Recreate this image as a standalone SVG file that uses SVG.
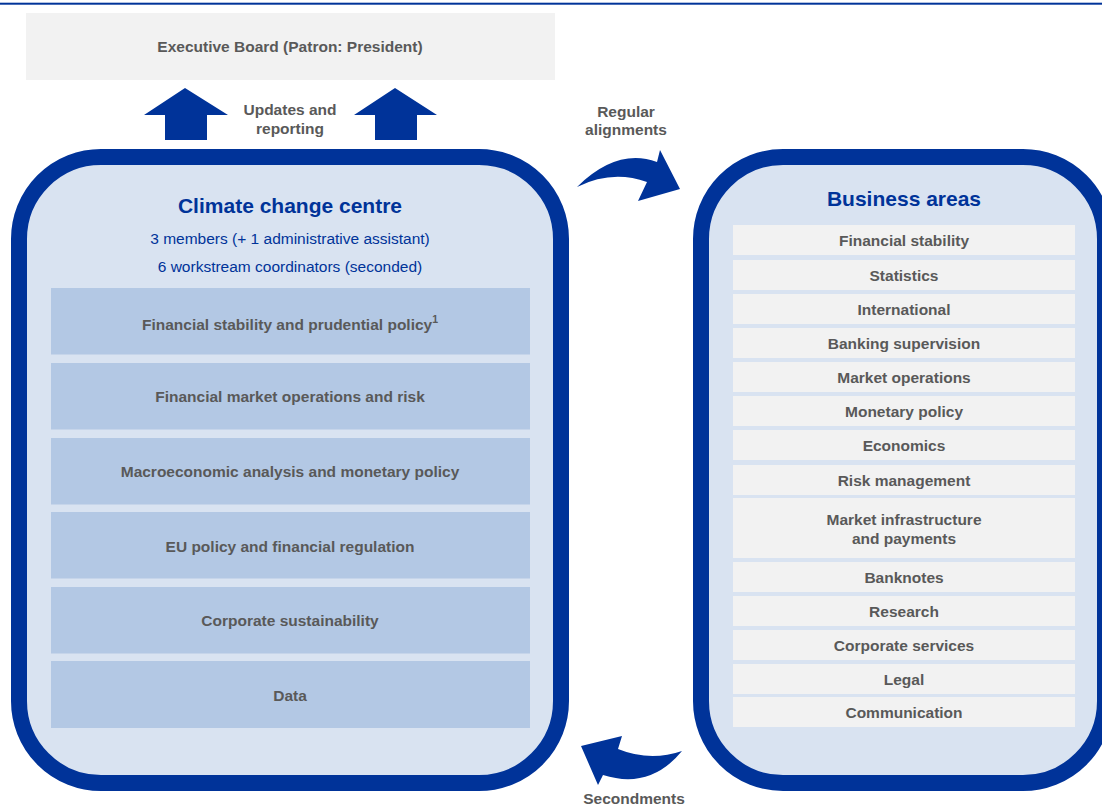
<svg xmlns="http://www.w3.org/2000/svg" width="1102" height="806" viewBox="0 0 1102 806">
<style>
.lbl{font-family:"Liberation Sans",Arial,sans-serif;font-weight:bold;font-size:15.5px;fill:#595959;text-anchor:middle}
.ttl{font-family:"Liberation Sans",Arial,sans-serif;font-weight:bold;font-size:21px;fill:#003399;text-anchor:middle}
.sub{font-family:"Liberation Sans",Arial,sans-serif;font-size:15.5px;fill:#003399;text-anchor:middle}
.frame{fill:#d9e3f1;stroke:#003399;stroke-width:16}
.ws{fill:#b3c8e4}
.ba{fill:#f2f2f2}
.arr{fill:#003399}
</style>
<rect x="0" y="2.7" width="1102" height="2" fill="#003399"/>
<g id="executive-board">
<rect x="26" y="13" width="529" height="67" fill="#f2f2f2"/>
<text class="lbl" x="290" y="51.5">Executive Board (Patron: President)</text>
</g>
<g id="connectors">
<polygon class="arr" points="185,88 228,115 207,115 207,140 165,140 165,115 144,115"/>
<polygon class="arr" points="395,88 437,115 417,115 417,140 375,140 375,115 354,115"/>
<text class="lbl" x="290" y="115">Updates and</text>
<text class="lbl" x="290" y="134">reporting</text>
<path class="arr" d="M577,187 Q617,147.5 657,162 L660,150 L680,189 L638,201 L647,182 Q612,169.5 577,187 Z"/>
<text class="lbl" x="626" y="117">Regular</text>
<text class="lbl" x="626" y="135">alignments</text>
<path class="arr" d="M682,751 Q650,790 603,775 L598,785 L581,746 L622,736 L618,749 Q650,762 682,751 Z"/>
<text class="lbl" x="634" y="804">Secondments</text>
</g>
<g id="climate-change-centre">
<rect class="frame" x="19" y="157" width="542" height="626" rx="82" ry="82"/>
<text class="ttl" x="290" y="213">Climate change centre</text>
<text class="sub" x="290" y="243.5">3 members (+ 1 administrative assistant)</text>
<text class="sub" x="290" y="271.5">6 workstream coordinators (seconded)</text>
</g>
<g id="ws-financial-stability">
<rect class="ws" x="51" y="288" width="479" height="66.5"/>
<text class="lbl" x="290" y="330">Financial stability and prudential policy<tspan font-size="10.5px" dy="-7">1</tspan></text>
</g>
<g id="ws-market-operations">
<rect class="ws" x="51" y="363" width="479" height="66.5"/>
<text class="lbl" x="290" y="402">Financial market operations and risk</text>
</g>
<g id="ws-macroeconomic">
<rect class="ws" x="51" y="438" width="479" height="66.5"/>
<text class="lbl" x="290" y="477">Macroeconomic analysis and monetary policy</text>
</g>
<g id="ws-eu-policy">
<rect class="ws" x="51" y="512" width="479" height="66.5"/>
<text class="lbl" x="290" y="552">EU policy and financial regulation</text>
</g>
<g id="ws-corporate-sustainability">
<rect class="ws" x="51" y="587" width="479" height="66.5"/>
<text class="lbl" x="290" y="626">Corporate sustainability</text>
</g>
<g id="ws-data">
<rect class="ws" x="51" y="661" width="479" height="67"/>
<text class="lbl" x="290" y="701">Data</text>
</g>
<g id="business-areas">
<rect class="frame" x="701" y="157" width="404" height="626" rx="82" ry="82"/>
<text class="ttl" x="904" y="206">Business areas</text>
</g>
<g id="ba-financial-stability"><rect class="ba" x="733" y="225" width="342" height="30"/><text class="lbl" x="904" y="246">Financial stability</text></g>
<g id="ba-statistics"><rect class="ba" x="733" y="260" width="342" height="30"/><text class="lbl" x="904" y="281">Statistics</text></g>
<g id="ba-international"><rect class="ba" x="733" y="294" width="342" height="30"/><text class="lbl" x="904" y="315">International</text></g>
<g id="ba-banking-supervision"><rect class="ba" x="733" y="328" width="342" height="30"/><text class="lbl" x="904" y="349">Banking supervision</text></g>
<g id="ba-market-operations"><rect class="ba" x="733" y="362" width="342" height="30"/><text class="lbl" x="904" y="383">Market operations</text></g>
<g id="ba-monetary-policy"><rect class="ba" x="733" y="396" width="342" height="30"/><text class="lbl" x="904" y="417">Monetary policy</text></g>
<g id="ba-economics"><rect class="ba" x="733" y="430" width="342" height="30"/><text class="lbl" x="904" y="451">Economics</text></g>
<g id="ba-risk-management"><rect class="ba" x="733" y="465" width="342" height="30"/><text class="lbl" x="904" y="486">Risk management</text></g>
<g id="ba-market-infrastructure"><rect class="ba" x="733" y="498" width="342" height="60"/><text class="lbl" x="904" y="525">Market infrastructure</text><text class="lbl" x="904" y="544">and payments</text></g>
<g id="ba-banknotes"><rect class="ba" x="733" y="562" width="342" height="30"/><text class="lbl" x="904" y="583">Banknotes</text></g>
<g id="ba-research"><rect class="ba" x="733" y="596" width="342" height="30"/><text class="lbl" x="904" y="617">Research</text></g>
<g id="ba-corporate-services"><rect class="ba" x="733" y="630" width="342" height="30"/><text class="lbl" x="904" y="651">Corporate services</text></g>
<g id="ba-legal"><rect class="ba" x="733" y="664" width="342" height="30"/><text class="lbl" x="904" y="685">Legal</text></g>
<g id="ba-communication"><rect class="ba" x="733" y="697" width="342" height="30"/><text class="lbl" x="904" y="718">Communication</text></g>
</svg>
